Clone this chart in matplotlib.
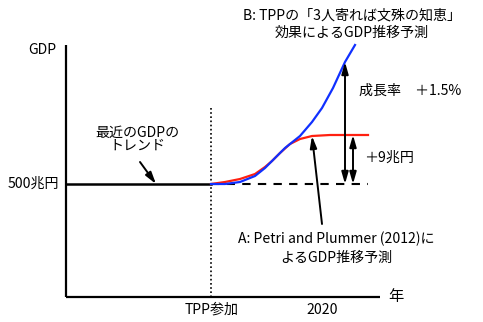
import matplotlib
matplotlib.use("Agg")
import matplotlib.pyplot as plt

plt.rcParams['font.family'] = ['Noto Sans CJK JP', 'DejaVu Sans']

# Schematic coordinates (screen-like units, y grows downward)
blue_x = [211, 225, 240, 255, 265, 272, 285, 300, 312, 322, 333, 345, 355]
blue_y = [184, 184, 182, 176, 168, 161, 148, 136, 122, 108, 88, 62, 45]
red_x = [211, 225, 240, 255, 265, 272, 280, 290, 300, 312, 330, 350, 368]
red_y = [184, 182, 179, 174, 167, 161, 153, 144, 139, 136, 135, 135, 135]
base_x = [66, 211]
base_y = [184, 184]
trend_x = [211, 368]
trend_y = [184, 184]
tick_labels = ["TPP参加", "2020"]
tick_pos = [212, 322]

fig = plt.figure(figsize=(4.83, 3.22), dpi=100)
ax = fig.add_axes([0, 0, 1, 1])
ax.set_xlim(0, 483)
ax.set_ylim(322, 0)
ax.axis('off')

fs = 10.1
# axes
ax.plot([66, 66], [45, 297], color='black', lw=1.6, solid_capstyle='butt')
ax.plot([66, 380], [297, 297], color='black', lw=1.6, solid_capstyle='butt')
ax.text(42, 50, "GDP", ha='center', va='center', fontsize=fs)
ax.text(396, 297, "年", ha='center', va='center', fontsize=11)
ax.text(33, 184, "500兆円", ha='center', va='center', fontsize=fs)
for p, l in zip(tick_pos, tick_labels):
    ax.text(p, 310, l, ha='center', va='center', fontsize=fs)

# dotted vertical
ax.plot([211, 211], [108, 297], color='black', lw=1.2, linestyle=(0, (1, 1.5)))

# baseline and trend
ax.plot(base_x, base_y, color='black', lw=1.8)
ax.plot(trend_x, trend_y, color='black', lw=1.5, linestyle=(0, (4, 3.5)))

# curves
ax.plot(red_x, red_y, color='#ff2010', lw=1.6)
ax.plot(blue_x, blue_y, color='#1030ff', lw=1.6)

ap = dict(arrowstyle='<|-|>,head_length=0.7,head_width=0.2', color='black', lw=1.4,
          shrinkA=0, shrinkB=0)
ax.annotate("", xy=(345, 62), xytext=(345, 184), arrowprops=ap)
ax.annotate("", xy=(353, 135), xytext=(353, 184), arrowprops=ap)

ap1 = dict(arrowstyle='-|>,head_length=0.7,head_width=0.2', color='black', lw=1.4,
           shrinkA=0, shrinkB=0)
ax.annotate("", xy=(312, 136), xytext=(322, 224), arrowprops=ap1)
ax.annotate("", xy=(156, 184), xytext=(140, 162), arrowprops=ap1)

ax.text(410, 91, "成長率　＋1.5%", ha='center', va='center', fontsize=fs)
ax.text(389, 158, "＋9兆円", ha='center', va='center', fontsize=fs)
ax.text(137, 133, "最近のGDPの", ha='center', va='center', fontsize=fs)
ax.text(137, 146, "トレンド", ha='center', va='center', fontsize=fs)
ax.text(352, 15, "B: TPPの「3人寄れば文殊の知恵」", ha='center', va='center', fontsize=fs)
ax.text(352, 33, "効果によるGDP推移予測", ha='center', va='center', fontsize=fs)
ax.text(336, 239, "A: Petri and Plummer (2012)に", ha='center', va='center', fontsize=fs)
ax.text(336, 258, "よるGDP推移予測", ha='center', va='center', fontsize=fs)

fig.savefig("out.png", dpi=100)
